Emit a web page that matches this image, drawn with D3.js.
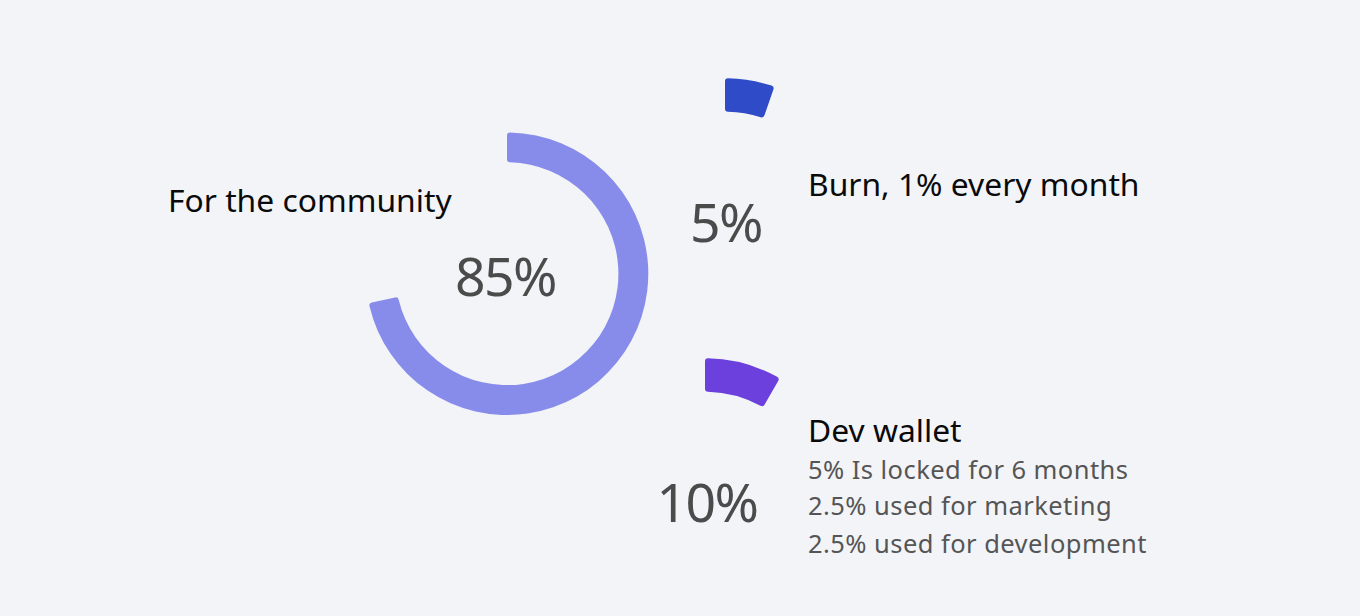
<!DOCTYPE html>
<html><head><meta charset="utf-8">
<script src="https://cdn.jsdelivr.net/npm/d3@7"></script>
<style>
html,body{margin:0;padding:0;background:#f3f4f8;}
svg{display:block;font-family:"Noto Sans",sans-serif;}
</style></head>
<body>
<script>
// Data
const categories = ["For the community", "Burn, 1% every month", "Dev wallet"];
const values = [85, 5, 10];
const valueLabels = ["85%", "5%", "10%"];
const devNotes = ["5% Is locked for 6 months", "2.5% used for marketing", "2.5% used for development"];
const colors = ["#878cea", "#2f4bc8", "#6b40dc"];

const W = 1360, H = 616;
const svg = d3.select("body").append("svg").attr("width", W).attr("height", H);
svg.append("rect").attr("width", W).attr("height", H).attr("fill", "#f3f4f8");

// angle scale (percent -> radians)
const angle = d3.scaleLinear().domain([0, 5, 10, 85]).range([0, 19, 30, 258].map(d => d * Math.PI / 180));

const layout = [
  {cx: 507, cy: 273.7, ro: 141.3, ri: 111.4, lx: 505.5, ly: 296, tx: 168, ty: 212},
  {cx: 725, cy: 230, ro: 151.7, ri: 118.3, lx: 726, ly: 242, tx: 808, ty: 196},
  {cx: 705, cy: 507.7, ro: 149.4, ri: 116, lx: 707, ly: 522, tx: 808, ty: 442}
];

values.forEach((v, i) => {
  const L = layout[i];
  const arc = d3.arc().innerRadius(L.ri).outerRadius(L.ro).cornerRadius(3)
    .startAngle(0).endAngle(angle(v));
  svg.append("path").attr("transform", `translate(${L.cx},${L.cy})`)
    .attr("d", arc()).attr("fill", colors[i]);
  svg.append("text").attr("x", L.lx).attr("y", L.ly).attr("text-anchor", "middle")
    .attr("font-size", 53.5).attr("letter-spacing", -1.5).attr("fill", "#4b4b4b").text(valueLabels[i]);
  svg.append("text").attr("x", L.tx).attr("y", L.ty)
    .attr("font-size", 31.8).attr("fill", "#0a0a0a").text(categories[i]);
});

devNotes.forEach((t, j) => {
  svg.append("text").attr("x", 808).attr("y", [479, 515, 553.3][j])
    .attr("font-size", 25.5).attr("letter-spacing", 0.45).attr("fill", "#555555").text(t);
});
</script>
</body></html>
